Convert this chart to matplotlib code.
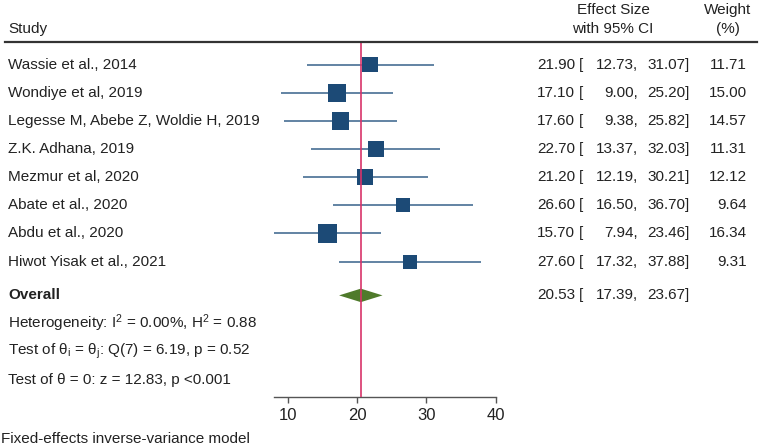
import numpy as np
import matplotlib
matplotlib.use("Agg")
import matplotlib.pyplot as plt
import matplotlib.transforms as mtransforms
from matplotlib.lines import Line2D

plt.rcParams['font.family'] = ['Liberation Sans', 'DejaVu Sans']
plt.rcParams['mathtext.fontset'] = 'custom'
plt.rcParams['mathtext.rm'] = 'Liberation Sans'
plt.rcParams['mathtext.it'] = 'Liberation Sans'

# Study data
studies = ["Wassie et al., 2014", "Wondiye et al, 2019", "Legesse M, Abebe Z, Woldie H, 2019",
           "Z.K. Adhana, 2019", "Mezmur et al, 2020", "Abate et al., 2020",
           "Abdu et al., 2020", "Hiwot Yisak et al., 2021"]
effect = [21.90, 17.10, 17.60, 22.70, 21.20, 26.60, 15.70, 27.60]
lower = [12.73, 9.00, 9.38, 13.37, 12.19, 16.50, 7.94, 17.32]
upper = [31.07, 25.20, 25.82, 32.03, 30.21, 36.70, 23.46, 37.88]
weight = [11.71, 15.00, 14.57, 11.31, 12.12, 9.64, 16.34, 9.31]

overall_es = 20.53
overall_lo = 17.39
overall_hi = 23.67

stats_lines = ["Heterogeneity: I$^2$ = 0.00%, H$^2$ = 0.88",
               "Test of \u03b8$_\\mathregular{i}$ = \u03b8$_\\mathregular{j}$: Q(7) = 6.19, p = 0.52",
               "Test of \u03b8 = 0: z = 12.83, p <0.001"]
xticks = [10, 20, 30, 40]
footnote = "Fixed-effects inverse-variance model"

W, H = 762, 445
fig = plt.figure(figsize=(W / 100, H / 100), dpi=100)

def fx(px):
    return px / W

def fy(py):
    return 1 - py / H

# plot panel
ax_left, ax_right = 273.7, 495.5
ax_top, ax_bot = 41.5, 397
ax = fig.add_axes([fx(ax_left), fy(ax_bot), (ax_right - ax_left) / W, (ax_bot - ax_top) / H])
ax.set_xlim(min(lower), 40)
ax.set_ylim(12.81, 0.18)

rows = np.arange(1, len(studies) + 1)
overall_y = 9.2
stats_y = [10.2, 11.2, 12.2]

sq_col = "#1c4a76"
ci_col = "#557a9c"
ax.hlines(rows, lower, upper, color=ci_col, lw=1.3, zorder=2)
side_px = 18.5 * np.sqrt(np.array(weight) / max(weight))
ax.scatter(effect, rows, marker='s', s=(side_px * 0.72) ** 2, color=sq_col, linewidths=0, zorder=3)

# diamond for overall
h = 0.24
ax.fill([overall_lo, overall_es, overall_hi, overall_es],
        [overall_y, overall_y - h, overall_y, overall_y + h],
        color="#4f7a2b", lw=0, zorder=3)

ax.axvline(overall_es, color="#d8336a", lw=1.2, zorder=4)

for s in ["top", "right", "left"]:
    ax.spines[s].set_visible(False)
ax.spines["bottom"].set_color("#555555")
ax.spines["bottom"].set_linewidth(1.0)
ax.set_yticks([])
ax.set_xticks(xticks)
ax.tick_params(axis='x', direction='out', length=4, width=1, color="#555555",
               labelsize=12, pad=4, labelcolor="#222222")
ax.patch.set_alpha(0)

# text
tr = mtransforms.blended_transform_factory(fig.transFigure, ax.transData)
fs = 11
tc = "#222222"
for i, name in enumerate(studies):
    y = rows[i]
    ax.text(fx(8), y, name, transform=tr, ha='left', va='center', fontsize=fs, color=tc)
    ax.text(fx(575), y, f"{effect[i]:.2f}", transform=tr, ha='right', va='center', fontsize=fs, color=tc)
    ax.text(fx(579), y, "[", transform=tr, ha='left', va='center', fontsize=fs, color=tc)
    ax.text(fx(638), y, f"{lower[i]:.2f},", transform=tr, ha='right', va='center', fontsize=fs, color=tc)
    ax.text(fx(690), y, f"{upper[i]:.2f}]", transform=tr, ha='right', va='center', fontsize=fs, color=tc)
    ax.text(fx(747), y, f"{weight[i]:.2f}", transform=tr, ha='right', va='center', fontsize=fs, color=tc)

ax.text(fx(8), overall_y, "Overall", transform=tr, ha='left', va='center', fontsize=fs,
        fontweight='bold', color=tc)
ax.text(fx(575), overall_y, f"{overall_es:.2f}", transform=tr, ha='right', va='center', fontsize=fs, color=tc)
ax.text(fx(579), overall_y, "[", transform=tr, ha='left', va='center', fontsize=fs, color=tc)
ax.text(fx(638), overall_y, f"{overall_lo:.2f},", transform=tr, ha='right', va='center', fontsize=fs, color=tc)
ax.text(fx(690), overall_y, f"{overall_hi:.2f}]", transform=tr, ha='right', va='center', fontsize=fs, color=tc)

for line, y in zip(stats_lines, stats_y):
    ax.text(fx(8), y, line, transform=tr, ha='left', va='center', fontsize=fs, color=tc)

# header
fig.text(fx(8), fy(29), "Study", ha='left', va='center', fontsize=fs, color=tc)
fig.text(fx(613), fy(10), "Effect Size", ha='center', va='center', fontsize=fs, color=tc)
fig.text(fx(613), fy(29), "with 95% CI", ha='center', va='center', fontsize=fs, color=tc)
fig.text(fx(728), fy(10), "Weight", ha='center', va='center', fontsize=fs, color=tc)
fig.text(fx(728), fy(29), "(%)", ha='center', va='center', fontsize=fs, color=tc)
fig.add_artist(Line2D([fx(5), fx(757)], [fy(41.5), fy(41.5)], transform=fig.transFigure,
                      color="#333333", lw=1.6))

fig.text(fx(1), fy(439), footnote, ha='left', va='center', fontsize=fs, color=tc)

fig.savefig("out.png", dpi=100, facecolor="white")
